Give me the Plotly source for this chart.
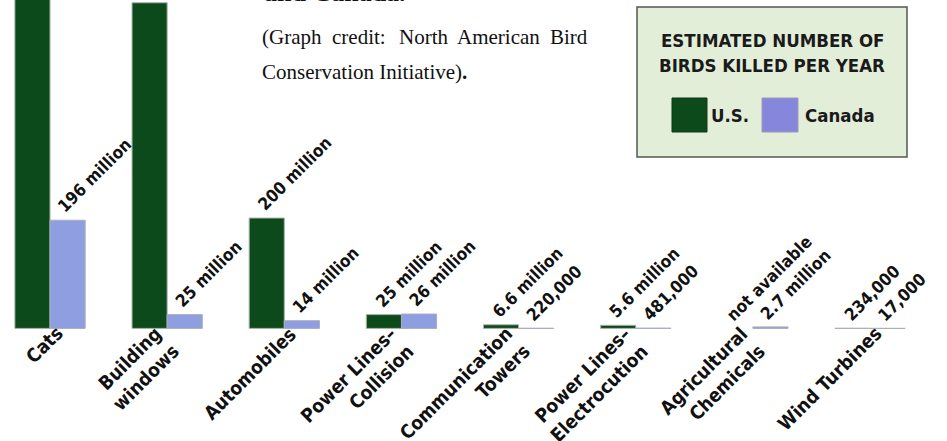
import plotly.graph_objects as go

# ---- data ----
categories = ["Cats", "Building windows", "Automobiles", "Power Lines–Collision",
              "Communication Towers", "Power Lines–Electrocution",
              "Agricultural Chemicals", "Wind Turbines"]
category_labels = ["Cats", "Building<br>windows", "Automobiles", "Power Lines–<br>Collision",
                   "Communication<br>Towers", "Power Lines–<br>Electrocution",
                   "Agricultural<br>Chemicals", "Wind Turbines"]
# millions of birds killed per year
us_values = [2400, 590, 200, 25, 6.6, 5.6, None, 0.234]
canada_values = [196, 25, 14, 26, 0.22, 0.481, 2.7, 0.017]
us_labels = ["2.4 billion", "599 million", "200 million", "25 million", "6.6 million",
             "5.6 million", "not available", "234,000"]
canada_labels = ["196 million", "25 million", "14 million", "26 million", "220,000",
                 "481,000", "2.7 million", "17,000"]

US_COLOR = "#0c4a1c"
CA_COLOR = "#8f9ee0"
SANS = "DejaVu Sans Condensed, Liberation Sans Narrow, Arial Narrow, sans-serif"
SERIF = "Liberation Serif, Times New Roman, serif"

W, H = 947, 441

fig = go.Figure()
fig.add_trace(go.Bar(x=categories, y=us_values, name="U.S.",
                     marker=dict(color=US_COLOR, line=dict(color="#a9b5a9", width=1))))
fig.add_trace(go.Bar(x=categories, y=canada_values, name="Canada",
                     marker=dict(color=CA_COLOR, line=dict(color="#a9aebb", width=1))))

ann = []
lab_font = dict(family=SANS, size=17, color="#111111", weight="bold")
cat_font = dict(family=SANS, size=19, color="#111111", weight="bold")
for c, v, t in zip(categories, us_values, us_labels):
    ann.append(dict(x=c, y=(v if v is not None else 0), xref="x", yref="y", text=t,
                    textangle=-45, xanchor="left", yanchor="bottom", showarrow=False,
                    xshift=-33, yshift=1, font=lab_font))
for c, v, t in zip(categories, canada_values, canada_labels):
    ann.append(dict(x=c, y=v, xref="x", yref="y", text=t,
                    textangle=-45, xanchor="left", yanchor="bottom", showarrow=False,
                    xshift=1, yshift=1, font=lab_font))
for c, t in zip(categories, category_labels):
    ann.append(dict(x=c, y=0, xref="x", yref="y", text=t, align="right",
                    textangle=-45, xanchor="right", yanchor="top", showarrow=False,
                    xshift=19, yshift=9, font=cat_font))


def px(x):
    return x / W


def py(y):
    return 1 - y / H


# caption text (serif)
serif_font = dict(family=SERIF, size=21, color="#111111")
ann.append(dict(x=px(262), y=py(-7.5), xref="paper", yref="paper", text="<b>and Canada.</b>",
                xanchor="left", yanchor="middle", showarrow=False,
                font=dict(family=SERIF, size=26, color="#111111")))
for word, xx in zip(["(Graph", "credit:", "North", "American", "Bird"], [260, 330, 397, 455, 548]):
    ann.append(dict(x=px(xx), y=py(37), xref="paper", yref="paper", text=word,
                    xanchor="left", yanchor="middle", showarrow=False, font=serif_font))
ann.append(dict(x=px(260), y=py(72), xref="paper", yref="paper",
                text="Conservation Initiative)<b>.</b>",
                xanchor="left", yanchor="middle", showarrow=False, font=serif_font))

# legend box
shapes = [
    dict(type="rect", xref="paper", yref="paper", x0=px(637), x1=px(907), y0=py(157), y1=py(7),
         fillcolor="#e3eed9", line=dict(color="#555555", width=1.5), layer="below"),
    dict(type="rect", xref="paper", yref="paper", x0=px(672), x1=px(707), y0=py(132), y1=py(98),
         fillcolor=US_COLOR, line=dict(color="#0a3a15", width=1)),
    dict(type="rect", xref="paper", yref="paper", x0=px(762), x1=px(798), y0=py(132), y1=py(98),
         fillcolor="#8686dc", line=dict(color="#9a9ab0", width=1)),
]
leg_font = dict(family=SANS, size=18.5, color="#1a1a1a", weight="bold")
ann.append(dict(x=px(772), y=py(40), xref="paper", yref="paper", text="ESTIMATED NUMBER OF",
                xanchor="center", yanchor="middle", showarrow=False, font=leg_font))
ann.append(dict(x=px(772), y=py(65), xref="paper", yref="paper", text="BIRDS KILLED PER YEAR",
                xanchor="center", yanchor="middle", showarrow=False, font=leg_font))
ann.append(dict(x=px(709), y=py(116), xref="paper", yref="paper", text="U.S.",
                xanchor="left", yanchor="middle", showarrow=False, font=leg_font))
ann.append(dict(x=px(803), y=py(116), xref="paper", yref="paper", text="Canada",
                xanchor="left", yanchor="middle", showarrow=False, font=leg_font))

fig.update_layout(
    width=W, height=H,
    margin=dict(l=0, r=0, t=0, b=0),
    paper_bgcolor="white", plot_bgcolor="white",
    barmode="group", bargap=0.4, bargroupgap=0,
    showlegend=False,
    xaxis=dict(type="category", range=[-0.427, 7.657], showticklabels=False,
               showgrid=False, zeroline=False, showline=False, ticks=""),
    yaxis=dict(range=[-204, 595], visible=False, showgrid=False, zeroline=False),
    annotations=ann, shapes=shapes,
)

fig.write_html("out.html")
